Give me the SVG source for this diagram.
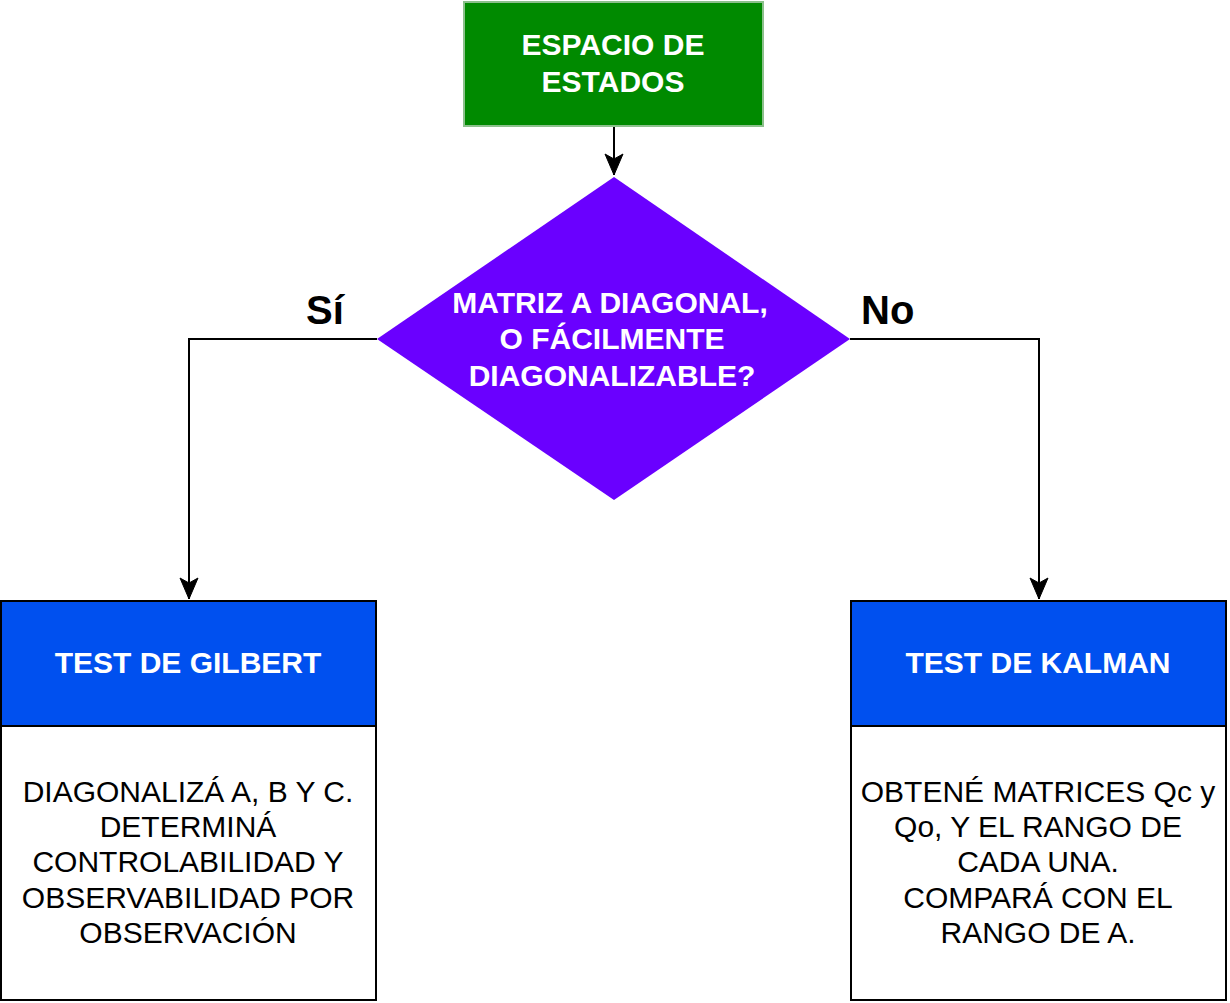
<svg xmlns="http://www.w3.org/2000/svg" width="1230" height="1003" viewBox="0 0 1230 1003">
<defs>
<style>
.b{font-family:"Liberation Sans",Arial,sans-serif;font-weight:bold;fill:#fff;text-anchor:middle;font-size:30px}
.r{font-family:"Liberation Sans",Arial,sans-serif;fill:#000;text-anchor:middle;font-size:30px}
.lbl{font-family:"Liberation Sans",Arial,sans-serif;font-weight:bold;fill:#000;font-size:40px}
.edge{fill:none;stroke:#000;stroke-width:2}
</style>
<marker id="arr" markerUnits="userSpaceOnUse" markerWidth="24" markerHeight="24" viewBox="0 0 24 24" refX="22" refY="12" orient="auto">
<path d="M1,3 L22,12 L1,21 L6,12 Z" fill="#000" stroke="#000" stroke-width="1"/>
</marker>
</defs>
<g id="connectors">
<path class="edge" d="M614,126 L614,175" marker-end="url(#arr)"/>
<path class="edge" d="M377,339 L189,339 L189,599" marker-end="url(#arr)"/>
<path class="edge" d="M850,339 L1039,339 L1039,599" marker-end="url(#arr)"/>
</g>
<g id="start">
<rect x="464" y="2" width="299" height="124" fill="#008a00" stroke="#8cc08c" stroke-width="2"/>
<text class="b"><tspan x="613" y="55">ESPACIO DE</tspan><tspan x="613" y="92">ESTADOS</tspan></text>
</g>
<g id="decision">
<polygon points="614,177 850,339 614,500 377,339" fill="#6a00ff"/>
<text class="b"><tspan x="610" y="313">MATRIZ A DIAGONAL,</tspan><tspan x="612" y="349">O FÁCILMENTE</tspan><tspan x="612" y="386">DIAGONALIZABLE?</tspan></text>
</g>
<g id="label-si"><text class="lbl" x="306" y="324">Sí</text></g>
<g id="label-no"><text class="lbl" x="861" y="324">No</text></g>
<g id="gilbert">
<rect x="1" y="601" width="375" height="125" fill="#0050ef" stroke="#000" stroke-width="2"/>
<rect x="1" y="726" width="375" height="274" fill="#fff" stroke="#000" stroke-width="2"/>
<text class="b" x="188" y="673">TEST DE GILBERT</text>
<text class="r"><tspan x="188" y="802">DIAGONALIZÁ A, B Y C.</tspan><tspan x="188" y="837">DETERMINÁ</tspan><tspan x="188" y="872">CONTROLABILIDAD Y</tspan><tspan x="188" y="908">OBSERVABILIDAD POR</tspan><tspan x="188" y="943">OBSERVACIÓN</tspan></text>
</g>
<g id="kalman">
<rect x="851" y="601" width="375" height="125" fill="#0050ef" stroke="#000" stroke-width="2"/>
<rect x="851" y="726" width="375" height="274" fill="#fff" stroke="#000" stroke-width="2"/>
<text class="b" x="1038" y="673">TEST DE KALMAN</text>
<text class="r"><tspan x="1038" y="802">OBTENÉ MATRICES Qc y</tspan><tspan x="1038" y="837">Qo, Y EL RANGO DE</tspan><tspan x="1038" y="872">CADA UNA.</tspan><tspan x="1038" y="908">COMPARÁ CON EL</tspan><tspan x="1038" y="943">RANGO DE A.</tspan></text>
</g>
</svg>
